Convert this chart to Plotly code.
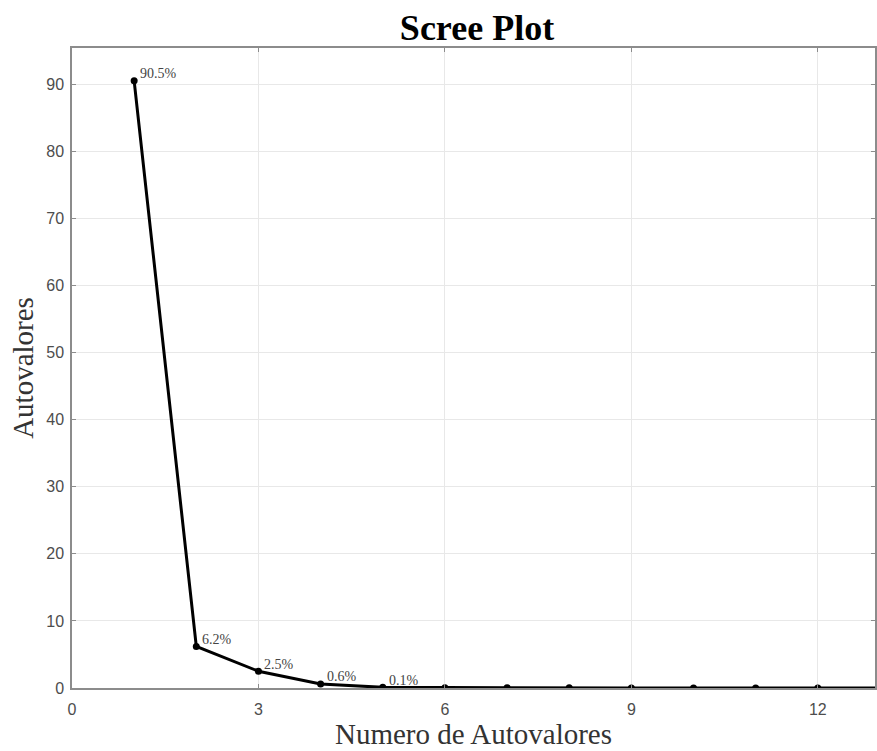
import plotly.graph_objects as go

# Eigenvalue index and explained variance (%)
componentes = list(range(1, 14))
autovalores = [90.5, 6.2, 2.5, 0.6, 0.1, 0.05, 0.03, 0.02, 0.01, 0.01, 0.0, 0.0, 0.0]
etiquetas = ["90.5%", "6.2%", "2.5%", "0.6%", "0.1%"]

x_ticks = [0, 3, 6, 9, 12]
y_ticks = [0, 10, 20, 30, 40, 50, 60, 70, 80, 90]

fig = go.Figure()
fig.add_trace(go.Scatter(
    x=componentes, y=autovalores,
    mode="lines+markers",
    line=dict(color="black", width=3),
    marker=dict(color="black", size=7),
    cliponaxis=True,
    showlegend=False,
))

for xi, yi, txt in zip(componentes, autovalores, etiquetas):
    fig.add_annotation(
        x=xi, y=yi, text=txt, showarrow=False,
        xanchor="left", yanchor="middle", xshift=4, yshift=7,
        font=dict(family="Liberation Serif", size=14, color="#444444"),
    )

axis_common = dict(
    showgrid=True, gridcolor="#e8e8e8", gridwidth=1,
    showline=True, linecolor="#8c8c8c", linewidth=1.5, mirror="ticks",
    ticks="inside", ticklen=4, tickcolor="#8c8c8c", tickwidth=1,
    zeroline=False,
    tickfont=dict(family="Liberation Sans", size=16, color="#4d4d4d"),
)

fig.update_xaxes(
    range=[0, 12.92], tickvals=x_ticks, ticklabelstandoff=6,
    title=dict(text="Numero de Autovalores",
               font=dict(family="Liberation Serif", size=29, color="#333333"),
               standoff=2),
    **axis_common,
)
fig.update_yaxes(
    range=[0, 95.4], tickvals=y_ticks, ticklabelstandoff=3,
    title=dict(text="Autovalores",
               font=dict(family="Liberation Serif", size=29, color="#333333"),
               standoff=4),
    **axis_common,
)

fig.update_layout(
    width=877, height=751,
    margin=dict(l=72, r=0, t=48, b=63),
    paper_bgcolor="white", plot_bgcolor="white",
    title=dict(text="<b>Scree Plot</b>", x=477 / 877, xanchor="center",
               xref="container", y=1 - 27 / 751, yanchor="middle",
               font=dict(family="Liberation Serif", size=36, color="black")),
)

fig.write_html("out.html")
